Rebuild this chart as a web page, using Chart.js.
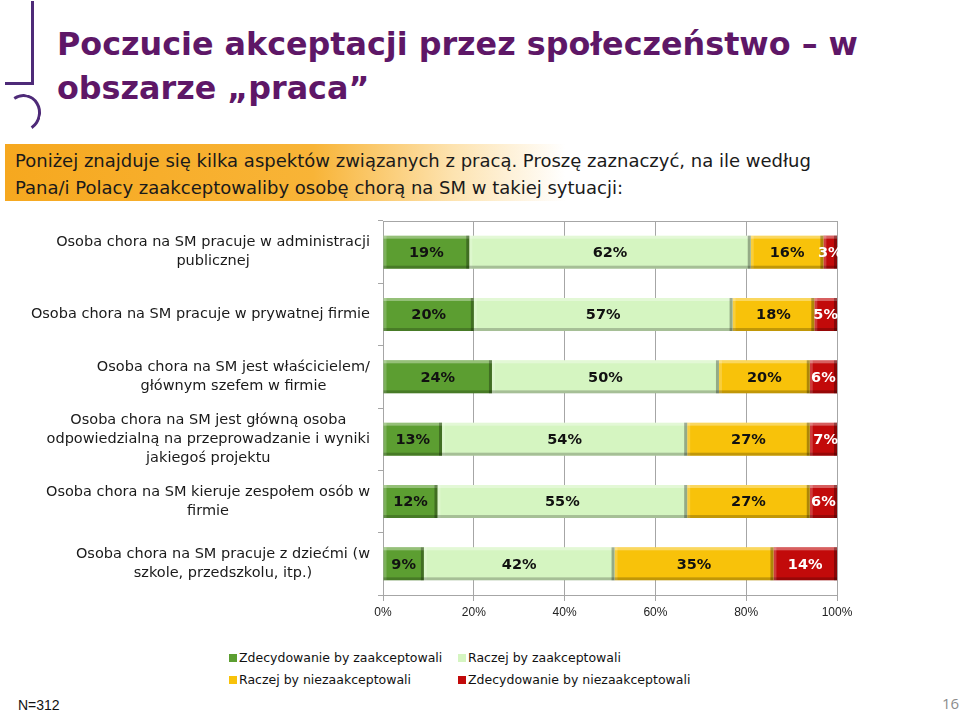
<!DOCTYPE html>
<html>
<head>
<meta charset="utf-8">
<script src="https://cdn.jsdelivr.net/npm/chart.js@4/dist/chart.umd.min.js"></script>
<style>
  body { margin: 0; background: #fff; }
  #page { position: relative; width: 960px; height: 713px; overflow: hidden; background: #fff; font-family: "DejaVu Sans", sans-serif; }
  #chartWrap { position: absolute; left: 0; top: 200px; width: 960px; height: 430px; }
  .logo-v { position: absolute; left: 31px; top: 1px; width: 3px; height: 84px; background: #4e2a78; }
  .logo-h { position: absolute; left: 5px; top: 82px; width: 29px; height: 3px; background: #4e2a78; }
  .logo-arc { position: absolute; left: 5px; top: 94px; width: 30px; height: 32px; border: 3px solid #4e2a78; border-left-color: transparent; border-bottom-color: transparent; border-radius: 50%; transform: rotate(12deg); }
  #title { position: absolute; left: 57px; top: 22px; color: #5e1767; font-weight: bold; font-size: 31.8px; line-height: 44px; }
  #band { position: absolute; left: 5px; top: 144px; width: 560px; height: 57px; background: linear-gradient(to right, #f6a81f 0%, #f8b437 55%, #fde3b0 80%, #ffffff 100%); }
  #question { position: absolute; left: 15px; top: 147px; font-size: 18px; line-height: 27px; color: #1a1a1a; }
  #legend { position: absolute; left: 229px; top: 650px; font-size: 12.5px; color: #111; }
  .leg-item { position: absolute; white-space: nowrap; }
  .leg-box { display: inline-block; width: 8px; height: 8px; margin-right: 2px; vertical-align: 0px; }
  #n { position: absolute; left: 18px; top: 697px; font-family: "Liberation Sans", sans-serif; font-size: 14px; color: #111; }
  #pageNo { position: absolute; left: 942px; top: 693px; font-family: "Open Sans", sans-serif; font-size: 15px; color: #8c8c8c; }
</style>
</head>
<body>
<div id="page">
  <div class="logo-v"></div>
  <div class="logo-h"></div>
  <div class="logo-arc"></div>
  <div id="title">Poczucie akceptacji przez społeczeństwo – w<br>obszarze „praca”</div>
  <div id="band"></div>
  <div id="question">Poniżej znajduje się kilka aspektów związanych z pracą. Proszę zaznaczyć, na ile według<br>Pana/i Polacy zaakceptowaliby osobę chorą na SM w takiej sytuacji:</div>
  <div id="chartWrap"><canvas id="workChart" width="960" height="430"></canvas></div>
  <div id="legend"></div>
  <div id="n">N=312</div>
  <div id="pageNo">16</div>
</div>
<script>
// data
const categories = [
  ['Osoba chora na SM pracuje w administracji', 'publicznej'],
  ['Osoba chora na SM pracuje w prywatnej firmie'],
  ['Osoba chora na SM jest właścicielem/', 'głównym szefem w firmie'],
  ['Osoba chora na SM jest główną osoba', 'odpowiedzialną na przeprowadzanie i wyniki', 'jakiegoś projektu'],
  ['Osoba chora na SM kieruje zespołem osób w', 'firmie'],
  ['Osoba chora na SM pracuje z dziećmi (w', 'szkole, przedszkolu, itp.)'],
];
const seriesNames = [
  'Zdecydowanie by zaakceptowali',
  'Raczej by zaakceptowali',
  'Raczej by niezaakceptowali',
  'Zdecydowanie by niezaakceptowali',
];
const definitelyAccept = [19, 20, 24, 13, 12, 9];
const ratherAccept = [62, 57, 50, 54, 55, 42];
const ratherNotAccept = [16, 18, 20, 27, 27, 35];
const definitelyNotAccept = [3, 5, 6, 7, 6, 14];
const xTickValues = [0, 20, 40, 60, 80, 100];

const seriesColors = ['#5c9e31', '#d5f5c1', '#f8c20a', '#c20a0a'];
const labelColors = ['#111', '#111', '#111', '#fff'];

// bevel edges like the office 3D bars
const bevelPlugin = {
  id: 'bevel',
  afterDatasetDraw(chart, args) {
    const { ctx, chartArea } = chart;
    const meta = args.meta;
    ctx.save();
    ctx.beginPath();
    ctx.rect(chartArea.left, chartArea.top, chartArea.right - chartArea.left, chartArea.bottom - chartArea.top);
    ctx.clip();
    meta.data.forEach((bar) => {
      const { x, y, base, height } = bar.getProps(['x', 'y', 'base', 'height'], true);
      const left = Math.min(x, base);
      const right = Math.min(Math.max(x, base), chartArea.right);
      const top = y - height / 2;
      const w = right - left;
      const b = 3;
      ctx.fillStyle = 'rgba(255,255,255,0.35)';
      ctx.fillRect(left, top, w, b);
      ctx.fillStyle = 'rgba(255,255,255,0.2)';
      ctx.fillRect(left, top, b, height);
      ctx.fillStyle = 'rgba(0,0,0,0.22)';
      ctx.fillRect(left, top + height - b, w, b);
      ctx.fillStyle = 'rgba(0,0,0,0.3)';
      ctx.fillRect(right - b, top, b, height);
    });
    ctx.restore();
  },
};

const valueLabelPlugin = {
  id: 'valueLabels',
  afterDatasetsDraw(chart) {
    const ctx = chart.ctx;
    ctx.save();
    ctx.font = 'bold 14.5px "DejaVu Sans"';
    ctx.textAlign = 'center';
    ctx.textBaseline = 'middle';
    chart.data.datasets.forEach((ds, i) => {
      const meta = chart.getDatasetMeta(i);
      ctx.fillStyle = labelColors[i];
      meta.data.forEach((bar, j) => {
        const { x, y, base } = bar.getProps(['x', 'y', 'base'], true);
        ctx.fillText(ds.data[j] + '%', (x + base) / 2, y + 1);
      });
    });
    ctx.restore();
  },
};

// category labels: block right aligned, lines centred inside it
const categoryLabelPlugin = {
  id: 'categoryLabels',
  afterDraw(chart) {
    const ctx = chart.ctx;
    const yScale = chart.scales.y;
    const rightEdge = 370;
    const lineHeight = 19;
    ctx.save();
    ctx.font = '14.5px "DejaVu Sans"';
    ctx.fillStyle = '#1a1a1a';
    ctx.textAlign = 'center';
    ctx.textBaseline = 'middle';
    categories.forEach((lines, i) => {
      const cy = yScale.getPixelForValue(i);
      const w = Math.max(...lines.map((t) => ctx.measureText(t).width));
      const cx = rightEdge - w / 2;
      lines.forEach((t, k) => {
        ctx.fillText(t, cx, cy + (k - (lines.length - 1) / 2) * lineHeight);
      });
    });
    ctx.restore();
  },
};

const frameTopPlugin = {
  id: 'frameTop',
  beforeDatasetsDraw(chart) {
    const { ctx, chartArea } = chart;
    ctx.save();
    ctx.strokeStyle = '#a6a6a6';
    ctx.lineWidth = 1;
    ctx.beginPath();
    ctx.moveTo(chartArea.left, chartArea.top + 0.5);
    ctx.lineTo(chartArea.right, chartArea.top + 0.5);
    ctx.stroke();
    ctx.restore();
  },
};

const seriesData = [definitelyAccept, ratherAccept, ratherNotAccept, definitelyNotAccept];

const workChart = new Chart(document.getElementById('workChart'), {
  type: 'bar',
  data: {
    labels: categories,
    datasets: seriesNames.map((name, i) => ({
      label: name,
      data: seriesData[i],
      backgroundColor: seriesColors[i],
      borderWidth: 0,
      barPercentage: 0.53,
      categoryPercentage: 1,
      clip: 0,
    })),
  },
  options: {
    indexAxis: 'y',
    responsive: false,
    animation: false,
    layout: { padding: { top: 21, right: 123, bottom: 0, left: 0 } },
    plugins: {
      legend: { display: false },
      tooltip: { enabled: false },
    },
    scales: {
      x: {
        stacked: true,
        min: 0,
        max: 100,
        afterBuildTicks: (scale) => {
          scale.ticks = xTickValues.map((v) => ({ value: v }));
        },
        afterFit: (scale) => {
          scale.height = 35;
        },
        grid: { color: '#a6a6a6', tickLength: 6, drawTicks: true },
        border: { color: '#a6a6a6' },
        ticks: {
          padding: 4,
          color: '#222',
          font: { family: 'Liberation Sans', size: 12 },
          callback: (value) => value + '%',
        },
      },
      y: {
        stacked: true,
        afterFit: (scale) => {
          scale.width = 383;
        },
        grid: { drawOnChartArea: false, tickLength: 5, color: '#a6a6a6' },
        border: { color: '#a6a6a6' },
        ticks: { display: false },
      },
    },
  },
  plugins: [frameTopPlugin, bevelPlugin, valueLabelPlugin, categoryLabelPlugin],
});

// legend in two columns, built from the chart's datasets
const legendEl = document.getElementById('legend');
const legendSpots = [[0, 0], [229, 0], [0, 22], [229, 22]];
workChart.data.datasets.forEach((ds, i) => {
  const item = document.createElement('div');
  item.className = 'leg-item';
  item.style.left = legendSpots[i][0] + 'px';
  item.style.top = legendSpots[i][1] + 'px';
  item.innerHTML = '<span class="leg-box" style="background:' + ds.backgroundColor + '"></span>' + ds.label;
  legendEl.appendChild(item);
});
</script>
</body>
</html>
